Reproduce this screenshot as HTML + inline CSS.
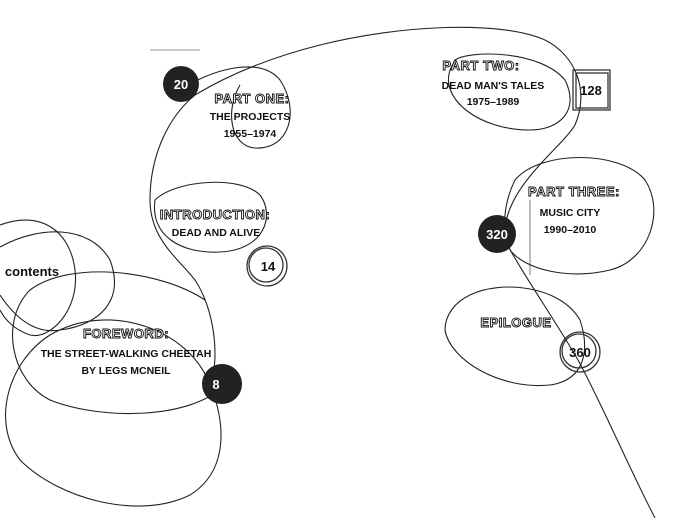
<!DOCTYPE html>
<html><head><meta charset="utf-8"><style>
body{margin:0;background:#fff}
svg{display:block}
text{font-family:"Liberation Sans Narrow","Liberation Sans",sans-serif;fill:#111;font-weight:bold}
.h{font-size:13px;fill:#fff;stroke:#111;stroke-width:0.9;letter-spacing:0.5px}
.s{font-size:10.5px}
</style></head><body>
<svg width="691" height="518" viewBox="0 0 691 518" xmlns="http://www.w3.org/2000/svg">
<g fill="none" stroke="#222" stroke-width="1.1">
<!-- main line right -->
<path d="M655,518 C630,470 600,400 578,360 C555,320 520,270 505,240 C500,190 560,150 575,125 C590,90 575,55 545,40 C500,20 400,25 320,45 C260,60 220,80 195,95 C165,120 150,160 150,200 C150,240 180,260 195,280 C215,310 220,360 210,385"/>
<!-- part one loop -->
<path d="M180,90 C210,70 260,55 280,80 C300,110 290,150 255,148 C230,146 225,110 240,85"/>
<!-- part two loop -->
<path d="M455,60 C470,50 540,50 565,80 C580,110 560,130 530,130 C480,130 440,100 450,70 Z"/>
<!-- part three loop -->
<path d="M515,180 C540,150 620,150 645,180 C665,210 650,260 610,270 C570,280 525,270 510,250 C500,230 505,200 515,180 Z"/>
<!-- epilogue loop -->
<path d="M470,295 C500,280 560,285 580,320 C590,350 585,380 550,385 C500,390 450,360 445,330 C445,315 455,302 470,295 Z"/>
<!-- intro loop -->
<path d="M155,200 C175,180 240,175 260,195 C275,215 265,250 220,252 C180,254 150,235 155,200 Z"/>
<!-- foreword + contents loops -->
<path d="M210,385 C225,420 230,470 190,495 C140,520 60,500 20,460 C-10,420 10,360 50,335 C110,300 190,330 210,385"/>
<path d="M225,385 C190,420 100,420 50,400 C10,380 0,320 30,290 C70,260 160,270 205,300"/>
<path d="M0,247 C40,225 90,225 110,260 C125,300 100,325 60,330 C30,335 10,310 0,295"/>
<path d="M0,225 C40,210 70,230 75,270 C80,310 50,340 30,335 C15,330 5,320 0,310"/>
<line x1="150" y1="50" x2="200" y2="50" stroke-width="0.6"/>
<line x1="530" y1="200" x2="530" y2="275" stroke-width="0.6"/>
</g>
<!-- nodes -->
<circle cx="181" cy="84" r="18" fill="#222"/><text x="181" y="89" text-anchor="middle" fill="#fff" font-size="13" style="fill:#fff">20</text>
<circle cx="222" cy="384" r="20" fill="#222"/><text x="216" y="389" text-anchor="middle" font-size="13" style="fill:#fff">8</text>
<circle cx="497" cy="234" r="19" fill="#222"/><text x="497" y="239" text-anchor="middle" font-size="13" style="fill:#fff">320</text>
<g fill="none" stroke="#333" stroke-width="1.3">
<circle cx="267" cy="266" r="20"/><circle cx="266" cy="265" r="17"/>
<circle cx="580" cy="352" r="20"/><circle cx="579" cy="351" r="17"/>
<rect x="573" y="70" width="37" height="40"/><rect x="576" y="73" width="32" height="35"/>
</g>
<text x="268" y="271" text-anchor="middle" font-size="13">14</text>
<text x="580" y="357" text-anchor="middle" font-size="13">360</text>
<text x="591" y="95" text-anchor="middle" font-size="13">128</text>
<!-- labels -->
<text class="h" x="252" y="103" text-anchor="middle">PART ONE:</text>
<text class="s" x="250" y="120" text-anchor="middle">THE PROJECTS</text>
<text class="s" x="250" y="137" text-anchor="middle">1955–1974</text>
<text class="h" x="481" y="70" text-anchor="middle">PART TWO:</text>
<text class="s" x="493" y="89" text-anchor="middle">DEAD MAN'S TALES</text>
<text class="s" x="493" y="105" text-anchor="middle">1975–1989</text>
<text class="h" x="574" y="196" text-anchor="middle">PART THREE:</text>
<text class="s" x="570" y="216" text-anchor="middle">MUSIC CITY</text>
<text class="s" x="570" y="233" text-anchor="middle">1990–2010</text>
<text class="h" x="516" y="327" text-anchor="middle">EPILOGUE</text>
<text class="h" x="215" y="219" text-anchor="middle">INTRODUCTION:</text>
<text class="s" x="216" y="236" text-anchor="middle">DEAD AND ALIVE</text>
<text class="h" x="126" y="338" text-anchor="middle">FOREWORD:</text>
<text class="s" x="126" y="357" text-anchor="middle">THE STREET-WALKING CHEETAH</text>
<text class="s" x="126" y="374" text-anchor="middle">BY LEGS MCNEIL</text>
<text x="32" y="276" text-anchor="middle" font-size="13">contents</text>
</svg>
</body></html>
